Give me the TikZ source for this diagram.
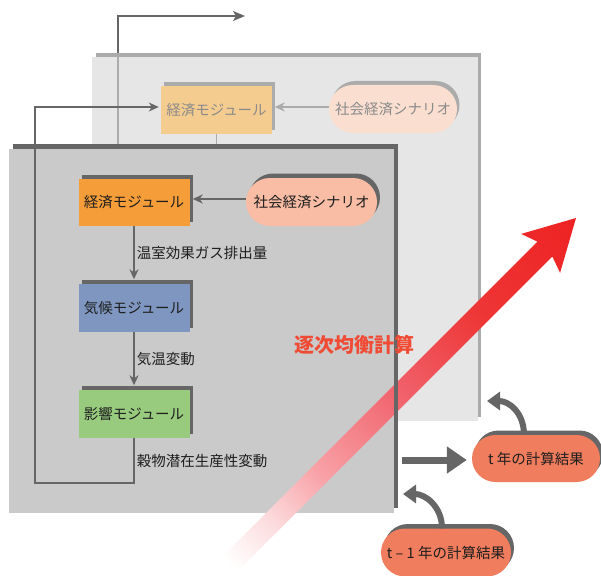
\documentclass[tikz,border=0pt]{standalone}
\usepackage{fontspec}
\setmainfont{Noto Sans CJK JP}
\usetikzlibrary{arrows.meta,shapes.misc,shadows}
\definecolor{dk}{HTML}{666666}
\definecolor{lt}{HTML}{ABABAB}
\definecolor{bpanel}{HTML}{E6E6E6}
\definecolor{fpanel}{HTML}{CACACA}
\definecolor{btxt}{HTML}{8A8A8A}
\definecolor{ftxt}{HTML}{1E1E1E}
\definecolor{bor}{HTML}{F5CC90}
\definecolor{bpk}{HTML}{FADFD0}
\definecolor{forg}{HTML}{F59D38}
\definecolor{fblu}{HTML}{7E96C0}
\definecolor{fgrn}{HTML}{98CB7E}
\definecolor{fpk}{HTML}{F8BDA4}
\definecolor{salm}{HTML}{F07D5D}
\definecolor{redtxt}{HTML}{EF4B35}
\definecolor{rA}{HTML}{FCDCDE}
\definecolor{rB}{HTML}{F8A2A7}
\definecolor{rC}{HTML}{F0606A}
\definecolor{rD}{HTML}{EE3636}
\definecolor{rE}{HTML}{EE2222}
\pgfdeclarehorizontalshading{redarr}{100bp}{color(0bp)=(white); color(25bp)=(white); color(31bp)=(rA); color(38bp)=(rB); color(50bp)=(rC); color(61bp)=(rD); color(75bp)=(rE); color(100bp)=(rE)}
\begin{document}
\begin{tikzpicture}[x=1pt,y=-1pt,
  txt/.style={font=\fontsize{14.5}{17}\selectfont},
  modbox/.style={rectangle, minimum width=111pt, minimum height=47pt, inner sep=0pt, txt},
  pillbox/.style={rounded rectangle, minimum height=48pt, inner sep=0pt, txt},
  backsh/.style={general shadow={fill=lt, shadow xshift=2.5pt, shadow yshift=4pt}},
  frontsh/.style={general shadow={fill=dk, shadow xshift=3pt, shadow yshift=4.5pt}},
  thinarr/.style={-{Stealth[length=10pt,width=9pt,inset=3pt]}},
  dkline/.style={draw=dk, line width=1.5pt},
  ltline/.style={draw=lt, line width=1.5pt},
  curvarr/.style={draw=dk, line width=6pt, -{Triangle[length=13pt,width=18pt]}},
  lbl/.style={txt, text=ftxt, inner sep=2pt}
]
\useasboundingbox (0,0) rectangle (601,575);

% outgoing line at top (behind the back layer)
\coordinate (topstart) at (118,60);
\coordinate (topend) at (245,16);
\draw[dkline, -{Stealth[length=12pt,width=10pt,inset=3pt]}] (topstart) |- (topend);

% back layer
\fill[lt] (96,53) rectangle (481,417);
\fill[bpanel] (92,57) rectangle (478,421);
\draw[ltline] (118,57) -- (118,144);

\node[modbox, fill=bor, text=btxt, backsh] (becon) at (216.5,110) {経済モジュール};
\node[pillbox, minimum width=128pt, fill=bpk, text=btxt, backsh] (bscen) at (393,109) {社会経済シナリオ};
\draw[ltline, thinarr] (bscen.west |- 0,107) -- ([xshift=2.5pt]becon.east |- 0,107);
\draw[ltline] (becon.south) -- ++(0,11);

% front layer
\fill[dk] (13,144) rectangle (398,508);
\fill[fpanel] (9,149) rectangle (394,513);

\node[modbox, fill=forg, text=ftxt, frontsh] (econ) at (134,202.5) {経済モジュール};
\node[modbox, minimum height=48pt, fill=fblu, text=ftxt, frontsh] (clim) at (134,308) {気候モジュール};
\node[modbox, minimum height=48pt, fill=fgrn, text=ftxt, frontsh] (imp) at (134,414) {影響モジュール};
\node[pillbox, minimum width=131pt, fill=fpk, text=ftxt, frontsh] (scen) at (311.5,202) {社会経済シナリオ};

\draw[dkline, thinarr] (scen.west |- 0,199) -- ([xshift=3pt]econ.east |- 0,199);
\draw[dkline, thinarr] (econ.south) -- node[lbl, right] {温室効果ガス排出量} ([yshift=4.5pt]clim.north);
\draw[dkline, thinarr] (clim.south) -- node[lbl, right] {気温変動} ([yshift=4.5pt]imp.north);

% feedback loop to the next step
\coordinate (fbcorner) at (35,107);
\draw[dkline, thinarr] (imp.south) -- node[lbl, right] {穀物潜在生産性変動} (imp.south |- 0,483) -| (fbcorner) -- ([xshift=-2pt]becon.west |- fbcorner);

% big red gradient arrow
\begin{scope}[transform canvas={shift={(576,218)},rotate=45}]
\shade[shading=redarr] (0,0) -- (-50,-27.5) -- (-44,-10.5) -- (-490,-10.5) -- (-490,10.5) -- (-44,10.5) -- (-50,27.5) -- cycle;
\end{scope}
\fill[dk] (394,144) rectangle (398,508);

\node[font=\fontsize{20}{24}\selectfont\bfseries, text=redtxt] (seq) at (354,345) {逐次均衡計算};

% result pills
\node[pillbox, minimum width=128pt, minimum height=47pt, fill=salm, text=ftxt, frontsh] (tpill) at (536,458.5) {t 年の計算結果};
\node[pillbox, minimum width=130pt, fill=salm, text=ftxt, frontsh] (t1pill) at (446,552.5) {t – 1 年の計算結果};

\coordinate (outstart) at (402,460);
\draw[dk, line width=7pt, -{Triangle[length=20pt,width=26pt]}, shorten >=5pt] (outstart) -- (outstart -| tpill.west);

\coordinate (tback) at (487,401);
\coordinate (t1back) at (403,494);
\draw[curvarr] ([xshift=-12pt]tpill.north) .. controls +(0,-22) and +(22,0) .. (tback);
\draw[curvarr] ([xshift=-4pt]t1pill.north) .. controls +(0,-22) and +(22,0) .. (t1back);
\end{tikzpicture}
\end{document}
